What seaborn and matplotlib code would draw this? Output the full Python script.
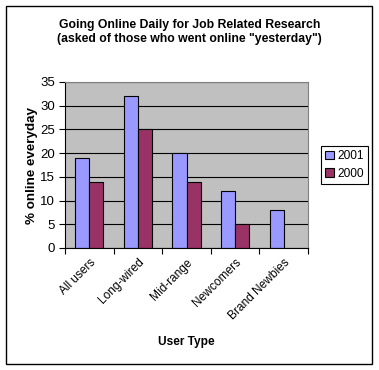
import numpy as np
import pandas as pd
import matplotlib
matplotlib.use('Agg')
from matplotlib import pyplot as plt
from matplotlib.patches import Rectangle
from matplotlib.transforms import ScaledTranslation
import seaborn as sns

# data
user_types = ['All users', 'Long-wired', 'Mid-range', 'Newcomers', 'Brand Newbies']
years = ['2001', '2000']
pct_2001 = [19, 32, 20, 12, 8]
pct_2000 = [14, 25, 14, 5, np.nan]
y_ticks = [0, 5, 10, 15, 20, 25, 30, 35]

df = pd.DataFrame({
    'User Type': user_types * 2,
    'pct': pct_2001 + pct_2000,
    'Year': ['2001'] * 5 + ['2000'] * 5,
})

plt.rcParams['font.family'] = ['Liberation Sans', 'DejaVu Sans']

fig = plt.figure(figsize=(3.79, 3.70), dpi=100)
ax = fig.add_axes([65 / 379, 1 - 248 / 370, (308 - 65) / 379, (248 - 82) / 370])
ax.set_facecolor('#C0C0C0')

sns.barplot(data=df, x='User Type', y='pct', hue='Year', hue_order=years,
            palette=['#9999FF', '#993366'], width=0.58, saturation=1,
            edgecolor='black', linewidth=0.8, errorbar=None, ax=ax)

ax.set_xlim(-0.5, 4.5)
ax.set_ylim(0, 35)
ax.set_yticks(y_ticks)
ax.set_yticklabels([str(v) for v in y_ticks], fontsize=9.5)
ax.yaxis.grid(True, color='black', linewidth=0.8)
ax.set_axisbelow(True)

ax.set_xticks(range(5))
ax.set_xticklabels(user_types, rotation=45, ha='right', rotation_mode='anchor', fontsize=8.6)
# shift the slanted labels a bit left and down, like the original
for lab in ax.get_xticklabels():
    lab.set_transform(lab.get_transform() + ScaledTranslation(-0.12, -0.08, fig.dpi_scale_trans))
ax.set_xticks(np.arange(-0.5, 5, 1), minor=True)
ax.tick_params(axis='x', which='major', length=0, pad=6)
ax.tick_params(axis='x', which='minor', length=4, width=0.8, direction='out')
ax.tick_params(axis='y', length=4, width=0.8, direction='out', pad=3)

for side in ['top', 'right']:
    ax.spines[side].set_color('#808080')
    ax.spines[side].set_linewidth(0.8)
for side in ['left', 'bottom']:
    ax.spines[side].set_color('black')
    ax.spines[side].set_linewidth(0.8)

ax.set_ylabel('% online everyday', fontsize=9.6, fontweight='bold', labelpad=2)
ax.set_xlabel('User Type', fontsize=8.6, fontweight='bold', labelpad=10)

fig.text(0.5, 1 - 32 / 370, 'Going Online Daily for Job Related Research\n(asked of those who went online "yesterday")',
         ha='center', va='center', fontsize=8.8, fontweight='bold', linespacing=1.15)

handles, labels = ax.get_legend_handles_labels()
ax.legend(handles, labels, loc='upper left', bbox_to_anchor=(321 / 379, 1 - 146 / 370),
          bbox_transform=fig.transFigure, fontsize=8.6, frameon=True, fancybox=False,
          edgecolor='black', framealpha=1, handlelength=0.7, handleheight=0.7,
          handletextpad=0.3, borderpad=0.35, labelspacing=0.45, borderaxespad=0)
ax.get_legend().get_frame().set_linewidth(0.8)

fig.patches.append(Rectangle((6 / 379, 6 / 370), 366 / 379, 358 / 370, transform=fig.transFigure,
                             fill=False, edgecolor='black', linewidth=1))

fig.savefig('out.png', dpi=100)
